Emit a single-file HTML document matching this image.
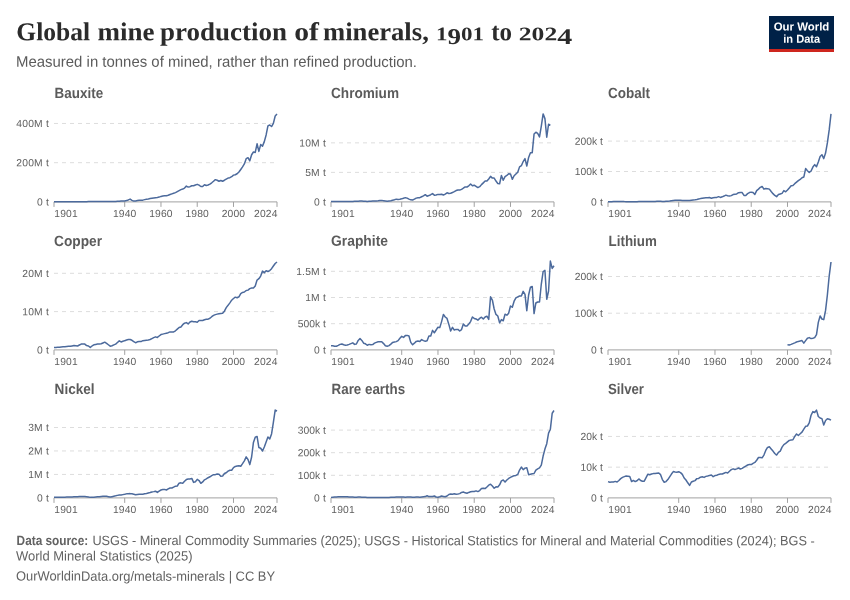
<!DOCTYPE html>
<html lang="en">
<head>
<meta charset="utf-8">
<title>Global mine production of minerals, 1901 to 2024</title>
<style>
html, body { margin: 0; padding: 0; background: #ffffff; }
body { width: 850px; height: 600px; overflow: hidden; font-family: "Liberation Sans", sans-serif; }
svg { display: block; will-change: transform; }
svg text { white-space: pre; }
</style>
</head>
<body>
<svg width="850" height="600" viewBox="0 0 850 600">
<rect width="850" height="600" fill="#ffffff"/>
<g id="header">
<text x="16.3" y="40.3" transform="rotate(0.03 16.3 40.3)" font-size="25.8" textLength="73.8" font-family="'Liberation Serif', serif" font-weight="bold" fill="#2b2b2b" lengthAdjust="spacingAndGlyphs">Global</text>
<text x="97.6" y="40.3" transform="rotate(0.03 97.6 40.3)" font-size="25.8" textLength="57" font-family="'Liberation Serif', serif" font-weight="bold" fill="#2b2b2b" lengthAdjust="spacingAndGlyphs">mine</text>
<text x="160.1" y="40.3" transform="rotate(0.03 160.1 40.3)" font-size="25.8" textLength="126.9" font-family="'Liberation Serif', serif" font-weight="bold" fill="#2b2b2b" lengthAdjust="spacingAndGlyphs">production</text>
<text x="294.2" y="40.3" transform="rotate(0.03 294.2 40.3)" font-size="25.8" textLength="24.7" font-family="'Liberation Serif', serif" font-weight="bold" fill="#2b2b2b" lengthAdjust="spacingAndGlyphs">of</text>
<text x="323" y="40.3" transform="rotate(0.03 323 40.3)" font-size="25.8" textLength="105.8" font-family="'Liberation Serif', serif" font-weight="bold" fill="#2b2b2b" lengthAdjust="spacingAndGlyphs">minerals,</text>
<text x="491.2" y="40.3" transform="rotate(0.03 491.2 40.3)" font-size="25.8" textLength="20.8" font-family="'Liberation Serif', serif" font-weight="bold" fill="#2b2b2b" lengthAdjust="spacingAndGlyphs">to</text>
<text x="436.1" y="40.3" transform="rotate(0.03 436.1 40.3)" font-size="19.2" textLength="48" font-family="'Liberation Serif', serif" font-weight="bold" fill="#2b2b2b" lengthAdjust="spacingAndGlyphs">1<tspan dy="3.8" font-size="22.5">9</tspan><tspan dy="-3.8">01</tspan></text>
<text x="518.8" y="40.3" transform="rotate(0.03 518.8 40.3)" font-size="19.2" textLength="53.4" font-family="'Liberation Serif', serif" font-weight="bold" fill="#2b2b2b" lengthAdjust="spacingAndGlyphs">202<tspan dy="3.8" font-size="22.5">4</tspan></text>
<text x="16" y="66.7" transform="rotate(0.03 16 66.7)" font-family="'Liberation Sans', sans-serif" font-size="15.2" fill="#5b5b5b" textLength="401" lengthAdjust="spacingAndGlyphs">Measured in tonnes of mined, rather than refined production.</text>
</g>
<g id="logo">
<rect x="769" y="16" width="65" height="36" fill="#002147"/>
<rect x="769" y="49" width="65" height="3" fill="#ce261e"/>
<text x="801.5" y="30.6" transform="rotate(0.03 801.5 30.6)" text-anchor="middle" font-family="'Liberation Sans', sans-serif" font-weight="bold" font-size="11.5" fill="#ffffff" textLength="55.6" lengthAdjust="spacingAndGlyphs">Our World</text>
<text x="801.7" y="42.7" transform="rotate(0.03 801.7 42.7)" text-anchor="middle" font-family="'Liberation Sans', sans-serif" font-weight="bold" font-size="11.5" fill="#ffffff" textLength="37" lengthAdjust="spacingAndGlyphs">in Data</text>
</g>
<g id="chart-bauxite">
<text x="54.6" y="97.7" transform="rotate(0.03 54.6 97.7)" font-family="'Liberation Sans', sans-serif" font-weight="bold" font-size="14.8" fill="#5b5b5b" textLength="48.5" lengthAdjust="spacingAndGlyphs">Bauxite</text>
<text x="49" y="205.5" transform="rotate(0.03 49 205.5)" text-anchor="end" letter-spacing="0.2" font-family="'Liberation Sans', sans-serif" font-size="10.3" fill="#5e5e5e">0 t</text>
<line x1="54" y1="162.68" x2="277" y2="162.68" stroke="#dddddd" stroke-width="1" stroke-dasharray="4 4"/>
<text x="49" y="166.28" transform="rotate(0.03 49 166.28)" text-anchor="end" letter-spacing="0.2" font-family="'Liberation Sans', sans-serif" font-size="10.3" fill="#5e5e5e">200M t</text>
<line x1="54" y1="123.46" x2="277" y2="123.46" stroke="#dddddd" stroke-width="1" stroke-dasharray="4 4"/>
<text x="49" y="127.06" transform="rotate(0.03 49 127.06)" text-anchor="end" letter-spacing="0.2" font-family="'Liberation Sans', sans-serif" font-size="10.3" fill="#5e5e5e">400M t</text>
<line x1="54" y1="201.9" x2="277" y2="201.9" stroke="#a1a1a1" stroke-width="1"/>
<line x1="54" y1="201.9" x2="54" y2="206.9" stroke="#a1a1a1" stroke-width="1"/>
<text x="54.3" y="216.9" transform="rotate(0.03 54.3 216.9)" letter-spacing="0.15" text-anchor="start" font-family="'Liberation Sans', sans-serif" font-size="10.3" fill="#5e5e5e">1901</text>
<line x1="124.71" y1="201.9" x2="124.71" y2="206.9" stroke="#a1a1a1" stroke-width="1"/>
<text x="124.71" y="216.9" transform="rotate(0.03 124.71 216.9)" letter-spacing="0.15" text-anchor="middle" font-family="'Liberation Sans', sans-serif" font-size="10.3" fill="#5e5e5e">1940</text>
<line x1="160.97" y1="201.9" x2="160.97" y2="206.9" stroke="#a1a1a1" stroke-width="1"/>
<text x="160.97" y="216.9" transform="rotate(0.03 160.97 216.9)" letter-spacing="0.15" text-anchor="middle" font-family="'Liberation Sans', sans-serif" font-size="10.3" fill="#5e5e5e">1960</text>
<line x1="197.23" y1="201.9" x2="197.23" y2="206.9" stroke="#a1a1a1" stroke-width="1"/>
<text x="197.23" y="216.9" transform="rotate(0.03 197.23 216.9)" letter-spacing="0.15" text-anchor="middle" font-family="'Liberation Sans', sans-serif" font-size="10.3" fill="#5e5e5e">1980</text>
<line x1="233.49" y1="201.9" x2="233.49" y2="206.9" stroke="#a1a1a1" stroke-width="1"/>
<text x="233.49" y="216.9" transform="rotate(0.03 233.49 216.9)" letter-spacing="0.15" text-anchor="middle" font-family="'Liberation Sans', sans-serif" font-size="10.3" fill="#5e5e5e">2000</text>
<line x1="277" y1="201.9" x2="277" y2="206.9" stroke="#a1a1a1" stroke-width="1"/>
<text x="277.6" y="216.9" transform="rotate(0.03 277.6 216.9)" letter-spacing="0.15" text-anchor="end" font-family="'Liberation Sans', sans-serif" font-size="10.3" fill="#5e5e5e">2024</text>
<polyline points="54,201.78 55.81,201.77 57.63,201.77 59.44,201.76 61.25,201.76 63.07,201.75 64.88,201.75 66.69,201.74 68.5,201.74 70.32,201.73 72.13,201.73 73.94,201.72 75.76,201.71 77.57,201.71 79.38,201.7 81.2,201.69 83.01,201.67 84.82,201.65 86.63,201.64 88.45,201.62 90.26,201.6 92.07,201.58 93.89,201.56 95.7,201.55 97.51,201.53 99.33,201.49 101.14,201.46 102.95,201.42 104.76,201.39 106.58,201.46 108.39,201.53 110.2,201.6 112.02,201.55 113.83,201.5 115.64,201.45 117.46,201.31 119.27,201.17 121.08,201.04 122.89,200.97 124.71,200.9 126.52,200.53 128.33,199.94 130.15,199.06 131.96,200.33 133.77,201.09 135.59,200.92 137.4,200.57 139.21,200.19 141.02,200.19 142.84,200.15 144.65,199.64 146.46,199.25 148.28,198.96 150.09,198.57 151.9,198.27 153.72,197.98 155.53,197.68 157.34,197.49 159.15,197.1 160.97,196.41 162.78,196.02 164.59,195.72 166.41,195.72 168.22,195.23 170.03,194.55 171.85,193.86 173.66,193.18 175.47,192.59 177.28,191.61 179.1,190.63 180.91,189.65 182.72,189.06 184.54,188.08 186.35,186.12 188.16,187.1 189.98,186.71 191.79,185.73 193.6,185.73 195.41,184.94 197.23,184.36 199.04,185.14 200.85,186.51 202.67,186.51 204.48,184.75 206.29,185.53 208.11,184.94 209.92,184.16 211.73,182.79 213.54,181.22 215.36,179.65 217.17,180.24 218.98,181.22 220.8,180.44 222.61,181.22 224.42,180.24 226.24,179.06 228.05,178.08 229.86,177.69 231.67,176.71 233.49,175.14 235.3,174.75 237.11,173.77 238.93,172.01 240.74,169.46 242.55,166.91 244.37,163.97 246.18,158.68 247.99,157.7 249.8,160.84 251.62,154.76 253.43,152.02 255.24,152.41 257.06,143.78 258.87,151.43 260.68,144.57 262.5,146.14 264.31,141.63 266.12,134.96 267.93,125.95 269.75,124.97 271.56,126.54 273.37,123.4 275.19,115.95 277,113.99" fill="none" stroke="#4c6a9c" stroke-width="1.5" stroke-linejoin="round" stroke-linecap="butt"/>
</g>
<g id="chart-chromium">
<text x="331" y="97.7" transform="rotate(0.03 331 97.7)" font-family="'Liberation Sans', sans-serif" font-weight="bold" font-size="14.8" fill="#5b5b5b" textLength="68" lengthAdjust="spacingAndGlyphs">Chromium</text>
<text x="326" y="205.5" transform="rotate(0.03 326 205.5)" text-anchor="end" letter-spacing="0.2" font-family="'Liberation Sans', sans-serif" font-size="10.3" fill="#5e5e5e">0 t</text>
<line x1="331" y1="172.38" x2="554" y2="172.38" stroke="#dddddd" stroke-width="1" stroke-dasharray="4 4"/>
<text x="326" y="175.97" transform="rotate(0.03 326 175.97)" text-anchor="end" letter-spacing="0.2" font-family="'Liberation Sans', sans-serif" font-size="10.3" fill="#5e5e5e">5M t</text>
<line x1="331" y1="142.85" x2="554" y2="142.85" stroke="#dddddd" stroke-width="1" stroke-dasharray="4 4"/>
<text x="326" y="146.45" transform="rotate(0.03 326 146.45)" text-anchor="end" letter-spacing="0.2" font-family="'Liberation Sans', sans-serif" font-size="10.3" fill="#5e5e5e">10M t</text>
<line x1="331" y1="201.9" x2="554" y2="201.9" stroke="#a1a1a1" stroke-width="1"/>
<line x1="331" y1="201.9" x2="331" y2="206.9" stroke="#a1a1a1" stroke-width="1"/>
<text x="331.3" y="216.9" transform="rotate(0.03 331.3 216.9)" letter-spacing="0.15" text-anchor="start" font-family="'Liberation Sans', sans-serif" font-size="10.3" fill="#5e5e5e">1901</text>
<line x1="401.71" y1="201.9" x2="401.71" y2="206.9" stroke="#a1a1a1" stroke-width="1"/>
<text x="401.71" y="216.9" transform="rotate(0.03 401.71 216.9)" letter-spacing="0.15" text-anchor="middle" font-family="'Liberation Sans', sans-serif" font-size="10.3" fill="#5e5e5e">1940</text>
<line x1="437.97" y1="201.9" x2="437.97" y2="206.9" stroke="#a1a1a1" stroke-width="1"/>
<text x="437.97" y="216.9" transform="rotate(0.03 437.97 216.9)" letter-spacing="0.15" text-anchor="middle" font-family="'Liberation Sans', sans-serif" font-size="10.3" fill="#5e5e5e">1960</text>
<line x1="474.23" y1="201.9" x2="474.23" y2="206.9" stroke="#a1a1a1" stroke-width="1"/>
<text x="474.23" y="216.9" transform="rotate(0.03 474.23 216.9)" letter-spacing="0.15" text-anchor="middle" font-family="'Liberation Sans', sans-serif" font-size="10.3" fill="#5e5e5e">1980</text>
<line x1="510.49" y1="201.9" x2="510.49" y2="206.9" stroke="#a1a1a1" stroke-width="1"/>
<text x="510.49" y="216.9" transform="rotate(0.03 510.49 216.9)" letter-spacing="0.15" text-anchor="middle" font-family="'Liberation Sans', sans-serif" font-size="10.3" fill="#5e5e5e">2000</text>
<line x1="554" y1="201.9" x2="554" y2="206.9" stroke="#a1a1a1" stroke-width="1"/>
<text x="554.6" y="216.9" transform="rotate(0.03 554.6 216.9)" letter-spacing="0.15" text-anchor="end" font-family="'Liberation Sans', sans-serif" font-size="10.3" fill="#5e5e5e">2024</text>
<polyline points="331,201.62 332.81,201.6 334.63,201.58 336.44,201.55 338.25,201.53 340.07,201.5 341.88,201.52 343.69,201.53 345.5,201.55 347.32,201.56 349.13,201.5 350.94,201.44 352.76,201.39 354.57,201.33 356.38,201.27 358.2,201.21 360.01,201.12 361.82,201.03 363.63,201.19 365.45,201.35 367.26,201.5 369.07,201.37 370.89,201.23 372.7,201.09 374.51,200.99 376.33,200.89 378.14,200.79 379.95,200.59 381.76,200.38 383.58,200.66 385.39,200.93 387.2,201.21 389.02,201 390.83,200.79 392.64,200.26 394.46,199.73 396.27,199.14 398.08,199.43 399.89,199.31 401.71,198.84 403.52,198.25 405.33,197.66 407.15,198.13 408.96,199.14 410.77,199.85 412.59,200.02 414.4,199.14 416.21,198.13 418.02,197.77 419.84,197.66 421.65,196.77 423.46,195.88 425.28,194.7 427.09,196.18 428.9,195.58 430.72,194.7 432.53,193.63 434.34,195.17 436.15,194.99 437.97,194.4 439.78,194.4 441.59,194.22 443.41,194.99 445.22,194.1 447.03,192.8 448.85,193.51 450.66,193.22 452.47,192.45 454.28,191.62 456.1,190.55 457.91,189.96 459.72,190.08 461.54,189.37 463.35,188.18 465.16,186.88 466.98,187 468.79,185.82 470.6,184.04 472.41,185.82 474.23,185.22 476.04,186.41 477.85,187.59 479.67,186.7 481.48,184.63 483.29,182.86 485.11,181.08 486.92,181.08 488.73,179.01 490.54,176.34 492.36,178.12 494.17,178.12 495.98,181.08 497.8,183.45 499.61,183.74 501.42,175.46 503.24,180.19 505.05,176.64 506.86,175.46 508.67,173.68 510.49,173.98 512.3,179.3 514.11,175.75 515.93,173.98 517.74,172.2 519.55,166.87 521.37,165.69 523.18,161.54 524.99,158.58 526.8,165.98 528.62,157.4 530.43,152.66 532.24,152.66 534.06,134.02 535.87,132.24 537.68,133.42 539.5,136.98 541.31,126.02 543.12,113.89 544.93,118.62 546.75,137.27 548.56,124.25 550.37,125.43" fill="none" stroke="#4c6a9c" stroke-width="1.5" stroke-linejoin="round" stroke-linecap="butt"/>
</g>
<g id="chart-cobalt">
<text x="608" y="97.7" transform="rotate(0.03 608 97.7)" font-family="'Liberation Sans', sans-serif" font-weight="bold" font-size="14.8" fill="#5b5b5b" textLength="42" lengthAdjust="spacingAndGlyphs">Cobalt</text>
<text x="603" y="205.5" transform="rotate(0.03 603 205.5)" text-anchor="end" letter-spacing="0.2" font-family="'Liberation Sans', sans-serif" font-size="10.3" fill="#5e5e5e">0 t</text>
<line x1="608" y1="171.5" x2="831" y2="171.5" stroke="#dddddd" stroke-width="1" stroke-dasharray="4 4"/>
<text x="602.8" y="175.1" transform="rotate(0.03 602.8 175.1)" text-anchor="end" letter-spacing="0" font-family="'Liberation Sans', sans-serif" font-size="10.3" fill="#5e5e5e">100k t</text>
<line x1="608" y1="141.1" x2="831" y2="141.1" stroke="#dddddd" stroke-width="1" stroke-dasharray="4 4"/>
<text x="602.8" y="144.7" transform="rotate(0.03 602.8 144.7)" text-anchor="end" letter-spacing="0" font-family="'Liberation Sans', sans-serif" font-size="10.3" fill="#5e5e5e">200k t</text>
<line x1="608" y1="201.9" x2="831" y2="201.9" stroke="#a1a1a1" stroke-width="1"/>
<line x1="608" y1="201.9" x2="608" y2="206.9" stroke="#a1a1a1" stroke-width="1"/>
<text x="608.3" y="216.9" transform="rotate(0.03 608.3 216.9)" letter-spacing="0.15" text-anchor="start" font-family="'Liberation Sans', sans-serif" font-size="10.3" fill="#5e5e5e">1901</text>
<line x1="678.71" y1="201.9" x2="678.71" y2="206.9" stroke="#a1a1a1" stroke-width="1"/>
<text x="678.71" y="216.9" transform="rotate(0.03 678.71 216.9)" letter-spacing="0.15" text-anchor="middle" font-family="'Liberation Sans', sans-serif" font-size="10.3" fill="#5e5e5e">1940</text>
<line x1="714.97" y1="201.9" x2="714.97" y2="206.9" stroke="#a1a1a1" stroke-width="1"/>
<text x="714.97" y="216.9" transform="rotate(0.03 714.97 216.9)" letter-spacing="0.15" text-anchor="middle" font-family="'Liberation Sans', sans-serif" font-size="10.3" fill="#5e5e5e">1960</text>
<line x1="751.23" y1="201.9" x2="751.23" y2="206.9" stroke="#a1a1a1" stroke-width="1"/>
<text x="751.23" y="216.9" transform="rotate(0.03 751.23 216.9)" letter-spacing="0.15" text-anchor="middle" font-family="'Liberation Sans', sans-serif" font-size="10.3" fill="#5e5e5e">1980</text>
<line x1="787.49" y1="201.9" x2="787.49" y2="206.9" stroke="#a1a1a1" stroke-width="1"/>
<text x="787.49" y="216.9" transform="rotate(0.03 787.49 216.9)" letter-spacing="0.15" text-anchor="middle" font-family="'Liberation Sans', sans-serif" font-size="10.3" fill="#5e5e5e">2000</text>
<line x1="831" y1="201.9" x2="831" y2="206.9" stroke="#a1a1a1" stroke-width="1"/>
<text x="831.6" y="216.9" transform="rotate(0.03 831.6 216.9)" letter-spacing="0.15" text-anchor="end" font-family="'Liberation Sans', sans-serif" font-size="10.3" fill="#5e5e5e">2024</text>
<polyline points="608,201.71 609.81,201.67 611.63,201.63 613.44,201.59 615.25,201.55 617.07,201.52 618.88,201.48 620.69,201.44 622.5,201.53 624.32,201.62 626.13,201.63 627.94,201.64 629.76,201.66 631.57,201.67 633.38,201.68 635.2,201.66 637.01,201.64 638.82,201.62 640.63,201.61 642.45,201.59 644.26,201.57 646.07,201.55 647.89,201.53 649.7,201.52 651.51,201.5 653.33,201.44 655.14,201.38 656.95,201.32 658.76,201.26 660.58,201.34 662.39,201.42 664.2,201.5 666.02,201.35 667.83,201.2 669.64,201.05 671.46,200.74 673.27,200.44 675.08,200.29 676.89,200.14 678.71,200.23 680.52,200.32 682.33,200.41 684.15,200.47 685.96,200.53 687.77,200.56 689.59,200.59 691.4,200.29 693.21,199.99 695.02,199.84 696.84,199.54 698.65,199.08 700.46,198.6 702.28,198.33 704.09,198.03 705.9,197.87 707.72,197.72 709.53,197.57 711.34,198.18 713.15,197.72 714.97,197.42 716.78,197.42 718.59,196.67 720.41,197.42 722.22,196.82 724.03,196.06 725.85,195.16 727.66,195.76 729.47,196.06 731.28,195.61 733.1,194.55 734.91,194.25 736.72,193.95 738.54,192.74 740.35,192.44 742.16,192.59 743.98,195.46 745.79,195.46 747.6,193.65 749.41,192.59 751.23,192.14 753.04,192.44 754.85,194.4 756.67,190.63 758.48,189.12 760.29,187.3 762.11,186.4 763.92,189.12 765.73,188.51 767.54,188.66 769.36,189.12 771.17,191.53 772.98,193.65 774.8,195.46 776.61,196.67 778.42,194.55 780.24,193.95 782.05,193.34 783.86,190.63 785.67,191.83 787.49,190.02 789.3,187.91 791.11,185.79 792.93,185.49 794.74,183.68 796.55,182.17 798.37,180.66 800.18,179.45 801.99,177.79 803.8,177.04 805.62,168.58 807.43,170.69 809.24,172.51 811.06,171 812.87,167.07 814.68,164.65 816.5,166.62 818.31,161.94 820.12,156.5 821.93,154.69 823.75,158.61 825.56,153.03 827.37,142.91 829.19,129.92 831,113.92" fill="none" stroke="#4c6a9c" stroke-width="1.5" stroke-linejoin="round" stroke-linecap="butt"/>
</g>
<g id="chart-copper">
<text x="54" y="245.7" transform="rotate(0.03 54 245.7)" font-family="'Liberation Sans', sans-serif" font-weight="bold" font-size="14.8" fill="#5b5b5b" textLength="48" lengthAdjust="spacingAndGlyphs">Copper</text>
<text x="49" y="353.5" transform="rotate(0.03 49 353.5)" text-anchor="end" letter-spacing="0.2" font-family="'Liberation Sans', sans-serif" font-size="10.3" fill="#5e5e5e">0 t</text>
<line x1="54" y1="311.6" x2="277" y2="311.6" stroke="#dddddd" stroke-width="1" stroke-dasharray="4 4"/>
<text x="49" y="315.2" transform="rotate(0.03 49 315.2)" text-anchor="end" letter-spacing="0.2" font-family="'Liberation Sans', sans-serif" font-size="10.3" fill="#5e5e5e">10M t</text>
<line x1="54" y1="273.3" x2="277" y2="273.3" stroke="#dddddd" stroke-width="1" stroke-dasharray="4 4"/>
<text x="49" y="276.9" transform="rotate(0.03 49 276.9)" text-anchor="end" letter-spacing="0.2" font-family="'Liberation Sans', sans-serif" font-size="10.3" fill="#5e5e5e">20M t</text>
<line x1="54" y1="349.9" x2="277" y2="349.9" stroke="#a1a1a1" stroke-width="1"/>
<line x1="54" y1="349.9" x2="54" y2="354.9" stroke="#a1a1a1" stroke-width="1"/>
<text x="54.3" y="364.9" transform="rotate(0.03 54.3 364.9)" letter-spacing="0.15" text-anchor="start" font-family="'Liberation Sans', sans-serif" font-size="10.3" fill="#5e5e5e">1901</text>
<line x1="124.71" y1="349.9" x2="124.71" y2="354.9" stroke="#a1a1a1" stroke-width="1"/>
<text x="124.71" y="364.9" transform="rotate(0.03 124.71 364.9)" letter-spacing="0.15" text-anchor="middle" font-family="'Liberation Sans', sans-serif" font-size="10.3" fill="#5e5e5e">1940</text>
<line x1="160.97" y1="349.9" x2="160.97" y2="354.9" stroke="#a1a1a1" stroke-width="1"/>
<text x="160.97" y="364.9" transform="rotate(0.03 160.97 364.9)" letter-spacing="0.15" text-anchor="middle" font-family="'Liberation Sans', sans-serif" font-size="10.3" fill="#5e5e5e">1960</text>
<line x1="197.23" y1="349.9" x2="197.23" y2="354.9" stroke="#a1a1a1" stroke-width="1"/>
<text x="197.23" y="364.9" transform="rotate(0.03 197.23 364.9)" letter-spacing="0.15" text-anchor="middle" font-family="'Liberation Sans', sans-serif" font-size="10.3" fill="#5e5e5e">1980</text>
<line x1="233.49" y1="349.9" x2="233.49" y2="354.9" stroke="#a1a1a1" stroke-width="1"/>
<text x="233.49" y="364.9" transform="rotate(0.03 233.49 364.9)" letter-spacing="0.15" text-anchor="middle" font-family="'Liberation Sans', sans-serif" font-size="10.3" fill="#5e5e5e">2000</text>
<line x1="277" y1="349.9" x2="277" y2="354.9" stroke="#a1a1a1" stroke-width="1"/>
<text x="277.6" y="364.9" transform="rotate(0.03 277.6 364.9)" letter-spacing="0.15" text-anchor="end" font-family="'Liberation Sans', sans-serif" font-size="10.3" fill="#5e5e5e">2024</text>
<polyline points="54,347.61 55.81,347.46 57.63,347.31 59.44,347.16 61.25,347.01 63.07,346.85 64.88,346.69 66.69,346.53 68.5,346.37 70.32,346.21 72.13,345.9 73.94,345.6 75.76,345.79 77.57,345.98 79.38,345.03 81.2,344.08 83.01,343.89 84.82,344.08 86.63,345.6 88.45,345.98 90.26,347.39 92.07,345.98 93.89,344.84 95.7,344.46 97.51,344.08 99.33,343.89 101.14,343.7 102.95,342.94 104.76,342.18 106.58,343.32 108.39,344.75 110.2,346.17 112.02,345.79 113.83,344.94 115.64,344.08 117.46,342.46 119.27,340.85 121.08,341.99 122.89,341.32 124.71,340.66 126.52,340.09 128.33,339.52 130.15,339.52 131.96,340.28 133.77,341.51 135.59,342.75 137.4,341.8 139.21,341.42 141.02,341.61 142.84,340.66 144.65,340.41 146.46,340.15 148.28,339.9 150.09,339.52 151.9,338.57 153.72,337.62 155.53,336.86 157.34,337.43 159.15,336 160.97,334.58 162.78,334.1 164.59,333.63 166.41,333.15 168.22,332.68 170.03,331.92 171.85,331.92 173.66,331.92 175.47,330.78 177.28,329.16 179.1,327.55 180.91,326.98 182.72,324.7 184.54,323.18 186.35,322.61 188.16,323.94 189.98,322.04 191.79,321.28 193.6,321.66 195.41,321.85 197.23,322.23 199.04,320.52 200.85,320.52 202.67,320.52 204.48,319.76 206.29,319.19 208.11,319.19 209.92,318.24 211.73,316.72 213.54,315.39 215.36,314.63 217.17,314.15 218.98,313.68 220.8,313.49 222.61,313.3 224.42,311.21 226.24,307.6 228.05,305.32 229.86,302.85 231.67,300.19 233.49,298.48 235.3,297.15 237.11,297.72 238.93,296.77 240.74,293.54 242.55,292.4 244.37,292.02 246.18,290.5 247.99,290.12 249.8,288.6 251.62,288.03 253.43,288.03 255.24,285.94 257.06,280.05 258.87,278.72 260.68,276.06 262.5,271.12 264.31,272.64 266.12,270.74 267.93,271.5 269.75,270.55 271.56,268.65 273.37,265.99 275.19,263.52 277,262" fill="none" stroke="#4c6a9c" stroke-width="1.5" stroke-linejoin="round" stroke-linecap="butt"/>
</g>
<g id="chart-graphite">
<text x="331" y="245.7" transform="rotate(0.03 331 245.7)" font-family="'Liberation Sans', sans-serif" font-weight="bold" font-size="14.8" fill="#5b5b5b" textLength="57" lengthAdjust="spacingAndGlyphs">Graphite</text>
<text x="326" y="353.5" transform="rotate(0.03 326 353.5)" text-anchor="end" letter-spacing="0.2" font-family="'Liberation Sans', sans-serif" font-size="10.3" fill="#5e5e5e">0 t</text>
<line x1="331" y1="323.7" x2="554" y2="323.7" stroke="#dddddd" stroke-width="1" stroke-dasharray="4 4"/>
<text x="325.8" y="327.3" transform="rotate(0.03 325.8 327.3)" text-anchor="end" letter-spacing="0" font-family="'Liberation Sans', sans-serif" font-size="10.3" fill="#5e5e5e">500k t</text>
<line x1="331" y1="297.5" x2="554" y2="297.5" stroke="#dddddd" stroke-width="1" stroke-dasharray="4 4"/>
<text x="326" y="301.1" transform="rotate(0.03 326 301.1)" text-anchor="end" letter-spacing="0.2" font-family="'Liberation Sans', sans-serif" font-size="10.3" fill="#5e5e5e">1M t</text>
<line x1="331" y1="271.3" x2="554" y2="271.3" stroke="#dddddd" stroke-width="1" stroke-dasharray="4 4"/>
<text x="326" y="274.9" transform="rotate(0.03 326 274.9)" text-anchor="end" letter-spacing="0.2" font-family="'Liberation Sans', sans-serif" font-size="10.3" fill="#5e5e5e">1.5M t</text>
<line x1="331" y1="349.9" x2="554" y2="349.9" stroke="#a1a1a1" stroke-width="1"/>
<line x1="331" y1="349.9" x2="331" y2="354.9" stroke="#a1a1a1" stroke-width="1"/>
<text x="331.3" y="364.9" transform="rotate(0.03 331.3 364.9)" letter-spacing="0.15" text-anchor="start" font-family="'Liberation Sans', sans-serif" font-size="10.3" fill="#5e5e5e">1901</text>
<line x1="401.71" y1="349.9" x2="401.71" y2="354.9" stroke="#a1a1a1" stroke-width="1"/>
<text x="401.71" y="364.9" transform="rotate(0.03 401.71 364.9)" letter-spacing="0.15" text-anchor="middle" font-family="'Liberation Sans', sans-serif" font-size="10.3" fill="#5e5e5e">1940</text>
<line x1="437.97" y1="349.9" x2="437.97" y2="354.9" stroke="#a1a1a1" stroke-width="1"/>
<text x="437.97" y="364.9" transform="rotate(0.03 437.97 364.9)" letter-spacing="0.15" text-anchor="middle" font-family="'Liberation Sans', sans-serif" font-size="10.3" fill="#5e5e5e">1960</text>
<line x1="474.23" y1="349.9" x2="474.23" y2="354.9" stroke="#a1a1a1" stroke-width="1"/>
<text x="474.23" y="364.9" transform="rotate(0.03 474.23 364.9)" letter-spacing="0.15" text-anchor="middle" font-family="'Liberation Sans', sans-serif" font-size="10.3" fill="#5e5e5e">1980</text>
<line x1="510.49" y1="349.9" x2="510.49" y2="354.9" stroke="#a1a1a1" stroke-width="1"/>
<text x="510.49" y="364.9" transform="rotate(0.03 510.49 364.9)" letter-spacing="0.15" text-anchor="middle" font-family="'Liberation Sans', sans-serif" font-size="10.3" fill="#5e5e5e">2000</text>
<line x1="554" y1="349.9" x2="554" y2="354.9" stroke="#a1a1a1" stroke-width="1"/>
<text x="554.6" y="364.9" transform="rotate(0.03 554.6 364.9)" letter-spacing="0.15" text-anchor="end" font-family="'Liberation Sans', sans-serif" font-size="10.3" fill="#5e5e5e">2024</text>
<polyline points="331,345.79 332.81,345.79 334.63,346.21 336.44,346.21 338.25,345.38 340.07,344.38 341.88,344.02 343.69,344.8 345.5,345.22 347.32,345.01 349.13,344.38 350.94,343.6 352.76,342.82 354.57,344.38 356.38,344.02 358.2,340.41 360.01,338.58 361.82,340.41 363.63,343.18 365.45,343.81 367.26,345.22 369.07,344.38 370.89,344.8 372.7,344.59 374.51,343.18 376.33,342.4 378.14,341.82 379.95,341.82 381.76,341.82 383.58,343.6 385.39,345.79 387.2,346.21 389.02,345.59 390.83,344.17 392.64,342.4 394.46,341.98 396.27,341.61 398.08,340.62 399.89,338.22 401.71,336.39 403.52,337.38 405.33,335.6 407.15,335.39 408.96,336.02 410.77,342.4 412.59,344.8 414.4,343.18 416.21,341.4 418.02,340.99 419.84,341.61 421.65,339.58 423.46,340.62 425.28,341.2 427.09,340.78 428.9,336.02 430.72,336.02 432.53,330.38 434.34,332.78 436.15,330.01 437.97,327.19 439.78,327.61 441.59,321.6 443.41,314.39 445.22,317 447.03,318.41 448.85,324.42 450.66,331 452.47,327.4 454.28,330.01 456.1,329.38 457.91,329.38 459.72,331 461.54,329.59 463.35,324 465.16,325.99 466.98,325.99 468.79,324 470.6,321.6 472.41,317 474.23,318.41 476.04,318.98 477.85,320.19 479.67,318.41 481.48,317.21 483.29,318.98 485.11,317 486.92,316.21 488.73,319.4 490.54,296.83 492.36,300.01 494.17,309 495.98,314.39 497.8,316.01 499.61,322.8 501.42,319.61 503.24,320.81 505.05,314.18 506.86,315.22 508.67,313.18 510.49,306.02 512.3,307.23 514.11,301.22 515.93,297.82 517.74,296.83 519.55,295.99 521.37,295.99 523.18,291.39 524.99,294.42 526.8,310.78 528.62,295 530.43,287.21 532.24,286.43 534.06,313.6 535.87,302.99 537.68,302 539.5,302 541.31,284.02 543.12,271.58 544.93,270.38 546.75,299.23 548.56,291.03 550.37,261.08 552.19,268.4 554,265.78" fill="none" stroke="#4c6a9c" stroke-width="1.5" stroke-linejoin="round" stroke-linecap="butt"/>
</g>
<g id="chart-lithium">
<text x="608.6" y="245.7" transform="rotate(0.03 608.6 245.7)" font-family="'Liberation Sans', sans-serif" font-weight="bold" font-size="14.8" fill="#5b5b5b" textLength="48.2" lengthAdjust="spacingAndGlyphs">Lithium</text>
<text x="603" y="353.5" transform="rotate(0.03 603 353.5)" text-anchor="end" letter-spacing="0.2" font-family="'Liberation Sans', sans-serif" font-size="10.3" fill="#5e5e5e">0 t</text>
<line x1="608" y1="313.2" x2="831" y2="313.2" stroke="#dddddd" stroke-width="1" stroke-dasharray="4 4"/>
<text x="602.8" y="316.8" transform="rotate(0.03 602.8 316.8)" text-anchor="end" letter-spacing="0" font-family="'Liberation Sans', sans-serif" font-size="10.3" fill="#5e5e5e">100k t</text>
<line x1="608" y1="276.5" x2="831" y2="276.5" stroke="#dddddd" stroke-width="1" stroke-dasharray="4 4"/>
<text x="602.8" y="280.1" transform="rotate(0.03 602.8 280.1)" text-anchor="end" letter-spacing="0" font-family="'Liberation Sans', sans-serif" font-size="10.3" fill="#5e5e5e">200k t</text>
<line x1="608" y1="349.9" x2="831" y2="349.9" stroke="#a1a1a1" stroke-width="1"/>
<line x1="608" y1="349.9" x2="608" y2="354.9" stroke="#a1a1a1" stroke-width="1"/>
<text x="608.3" y="364.9" transform="rotate(0.03 608.3 364.9)" letter-spacing="0.15" text-anchor="start" font-family="'Liberation Sans', sans-serif" font-size="10.3" fill="#5e5e5e">1901</text>
<line x1="678.71" y1="349.9" x2="678.71" y2="354.9" stroke="#a1a1a1" stroke-width="1"/>
<text x="678.71" y="364.9" transform="rotate(0.03 678.71 364.9)" letter-spacing="0.15" text-anchor="middle" font-family="'Liberation Sans', sans-serif" font-size="10.3" fill="#5e5e5e">1940</text>
<line x1="714.97" y1="349.9" x2="714.97" y2="354.9" stroke="#a1a1a1" stroke-width="1"/>
<text x="714.97" y="364.9" transform="rotate(0.03 714.97 364.9)" letter-spacing="0.15" text-anchor="middle" font-family="'Liberation Sans', sans-serif" font-size="10.3" fill="#5e5e5e">1960</text>
<line x1="751.23" y1="349.9" x2="751.23" y2="354.9" stroke="#a1a1a1" stroke-width="1"/>
<text x="751.23" y="364.9" transform="rotate(0.03 751.23 364.9)" letter-spacing="0.15" text-anchor="middle" font-family="'Liberation Sans', sans-serif" font-size="10.3" fill="#5e5e5e">1980</text>
<line x1="787.49" y1="349.9" x2="787.49" y2="354.9" stroke="#a1a1a1" stroke-width="1"/>
<text x="787.49" y="364.9" transform="rotate(0.03 787.49 364.9)" letter-spacing="0.15" text-anchor="middle" font-family="'Liberation Sans', sans-serif" font-size="10.3" fill="#5e5e5e">2000</text>
<line x1="831" y1="349.9" x2="831" y2="354.9" stroke="#a1a1a1" stroke-width="1"/>
<text x="831.6" y="364.9" transform="rotate(0.03 831.6 364.9)" letter-spacing="0.15" text-anchor="end" font-family="'Liberation Sans', sans-serif" font-size="10.3" fill="#5e5e5e">2024</text>
<polyline points="787.49,344.8 789.3,345.02 791.11,344.4 792.93,343.6 794.74,342.83 796.55,341.99 798.37,341.41 800.18,341 801.99,340.6 803.8,343.19 805.62,340.6 807.43,338.19 809.24,337.61 811.06,338.6 812.87,338.19 814.68,337.61 816.5,334.62 818.31,322.39 820.12,316 821.93,319 823.75,319.62 825.56,310.42 827.37,295.01 829.19,276.03 831,261.98" fill="none" stroke="#4c6a9c" stroke-width="1.5" stroke-linejoin="round" stroke-linecap="butt"/>
</g>
<g id="chart-nickel">
<text x="54.6" y="393.7" transform="rotate(0.03 54.6 393.7)" font-family="'Liberation Sans', sans-serif" font-weight="bold" font-size="14.8" fill="#5b5b5b" textLength="40" lengthAdjust="spacingAndGlyphs">Nickel</text>
<text x="49" y="501.5" transform="rotate(0.03 49 501.5)" text-anchor="end" letter-spacing="0.2" font-family="'Liberation Sans', sans-serif" font-size="10.3" fill="#5e5e5e">0 t</text>
<line x1="54" y1="474.43" x2="277" y2="474.43" stroke="#dddddd" stroke-width="1" stroke-dasharray="4 4"/>
<text x="49" y="478.03" transform="rotate(0.03 49 478.03)" text-anchor="end" letter-spacing="0.2" font-family="'Liberation Sans', sans-serif" font-size="10.3" fill="#5e5e5e">1M t</text>
<line x1="54" y1="450.96" x2="277" y2="450.96" stroke="#dddddd" stroke-width="1" stroke-dasharray="4 4"/>
<text x="49" y="454.56" transform="rotate(0.03 49 454.56)" text-anchor="end" letter-spacing="0.2" font-family="'Liberation Sans', sans-serif" font-size="10.3" fill="#5e5e5e">2M t</text>
<line x1="54" y1="427.49" x2="277" y2="427.49" stroke="#dddddd" stroke-width="1" stroke-dasharray="4 4"/>
<text x="49" y="431.09" transform="rotate(0.03 49 431.09)" text-anchor="end" letter-spacing="0.2" font-family="'Liberation Sans', sans-serif" font-size="10.3" fill="#5e5e5e">3M t</text>
<line x1="54" y1="497.9" x2="277" y2="497.9" stroke="#a1a1a1" stroke-width="1"/>
<line x1="54" y1="497.9" x2="54" y2="502.9" stroke="#a1a1a1" stroke-width="1"/>
<text x="54.3" y="512.9" transform="rotate(0.03 54.3 512.9)" letter-spacing="0.15" text-anchor="start" font-family="'Liberation Sans', sans-serif" font-size="10.3" fill="#5e5e5e">1901</text>
<line x1="124.71" y1="497.9" x2="124.71" y2="502.9" stroke="#a1a1a1" stroke-width="1"/>
<text x="124.71" y="512.9" transform="rotate(0.03 124.71 512.9)" letter-spacing="0.15" text-anchor="middle" font-family="'Liberation Sans', sans-serif" font-size="10.3" fill="#5e5e5e">1940</text>
<line x1="160.97" y1="497.9" x2="160.97" y2="502.9" stroke="#a1a1a1" stroke-width="1"/>
<text x="160.97" y="512.9" transform="rotate(0.03 160.97 512.9)" letter-spacing="0.15" text-anchor="middle" font-family="'Liberation Sans', sans-serif" font-size="10.3" fill="#5e5e5e">1960</text>
<line x1="197.23" y1="497.9" x2="197.23" y2="502.9" stroke="#a1a1a1" stroke-width="1"/>
<text x="197.23" y="512.9" transform="rotate(0.03 197.23 512.9)" letter-spacing="0.15" text-anchor="middle" font-family="'Liberation Sans', sans-serif" font-size="10.3" fill="#5e5e5e">1980</text>
<line x1="233.49" y1="497.9" x2="233.49" y2="502.9" stroke="#a1a1a1" stroke-width="1"/>
<text x="233.49" y="512.9" transform="rotate(0.03 233.49 512.9)" letter-spacing="0.15" text-anchor="middle" font-family="'Liberation Sans', sans-serif" font-size="10.3" fill="#5e5e5e">2000</text>
<line x1="277" y1="497.9" x2="277" y2="502.9" stroke="#a1a1a1" stroke-width="1"/>
<text x="277.6" y="512.9" transform="rotate(0.03 277.6 512.9)" letter-spacing="0.15" text-anchor="end" font-family="'Liberation Sans', sans-serif" font-size="10.3" fill="#5e5e5e">2024</text>
<polyline points="54,497.37 55.81,497.34 57.63,497.31 59.44,497.28 61.25,497.25 63.07,497.2 64.88,497.16 66.69,497.11 68.5,497.06 70.32,497.01 72.13,496.94 73.94,496.86 75.76,496.78 77.57,496.7 79.38,496.62 81.2,496.55 83.01,496.49 84.82,496.43 86.63,496.66 88.45,496.9 90.26,497.37 92.07,497.32 93.89,497.14 95.7,496.96 97.51,496.78 99.33,496.63 101.14,496.49 102.95,496.34 104.76,496.2 106.58,496.31 108.39,496.7 110.2,497.09 112.02,496.66 113.83,496.25 115.64,495.84 117.46,495.38 119.27,494.91 121.08,494.91 122.89,494.62 124.71,494.32 126.52,493.86 128.33,493.74 130.15,493.62 131.96,493.86 133.77,494.21 135.59,494.79 137.4,494.44 139.21,494.14 141.02,494.17 142.84,494.21 144.65,493.86 146.46,493.5 148.28,493.04 150.09,492.57 151.9,491.98 153.72,491.63 155.53,491.16 157.34,492.45 159.15,491.05 160.97,489.99 162.78,489.53 164.59,489.41 166.41,489.99 168.22,488.94 170.03,488.01 171.85,488.01 173.66,487.07 175.47,486.13 177.28,486.02 179.1,483.21 180.91,482.86 182.72,483.33 184.54,481.22 186.35,479.58 188.16,479 189.98,479 191.79,478.41 193.6,482.39 195.41,481.69 197.23,479.35 199.04,480.52 200.85,483.33 202.67,481.92 204.48,479.82 206.29,478.88 208.11,477.71 209.92,476.77 211.73,475.6 213.54,474.67 215.36,474.67 217.17,473.97 218.98,474.2 220.8,476.19 222.61,476.07 224.42,473.5 226.24,472.8 228.05,471.16 229.86,470.22 231.67,470.22 233.49,467.65 235.3,466.48 237.11,466.01 238.93,465.78 240.74,466.24 242.55,463.67 244.37,460.86 246.18,456.88 247.99,459.46 249.8,464.61 251.62,457 253.43,442.38 255.24,437.23 257.06,436.41 258.87,447.52 260.68,448.23 262.5,451.03 264.31,447.06 266.12,442.02 267.93,436.99 269.75,438.87 271.56,433.95 273.37,422.49 275.19,410.08 277,411.02" fill="none" stroke="#4c6a9c" stroke-width="1.5" stroke-linejoin="round" stroke-linecap="butt"/>
</g>
<g id="chart-rare-earths">
<text x="331.6" y="393.7" transform="rotate(0.03 331.6 393.7)" font-family="'Liberation Sans', sans-serif" font-weight="bold" font-size="14.8" fill="#5b5b5b" textLength="73.5" lengthAdjust="spacingAndGlyphs">Rare earths</text>
<text x="326" y="501.5" transform="rotate(0.03 326 501.5)" text-anchor="end" letter-spacing="0.2" font-family="'Liberation Sans', sans-serif" font-size="10.3" fill="#5e5e5e">0 t</text>
<line x1="331" y1="475.3" x2="554" y2="475.3" stroke="#dddddd" stroke-width="1" stroke-dasharray="4 4"/>
<text x="325.8" y="478.9" transform="rotate(0.03 325.8 478.9)" text-anchor="end" letter-spacing="0" font-family="'Liberation Sans', sans-serif" font-size="10.3" fill="#5e5e5e">100k t</text>
<line x1="331" y1="452.7" x2="554" y2="452.7" stroke="#dddddd" stroke-width="1" stroke-dasharray="4 4"/>
<text x="325.8" y="456.3" transform="rotate(0.03 325.8 456.3)" text-anchor="end" letter-spacing="0" font-family="'Liberation Sans', sans-serif" font-size="10.3" fill="#5e5e5e">200k t</text>
<line x1="331" y1="430.1" x2="554" y2="430.1" stroke="#dddddd" stroke-width="1" stroke-dasharray="4 4"/>
<text x="325.8" y="433.7" transform="rotate(0.03 325.8 433.7)" text-anchor="end" letter-spacing="0" font-family="'Liberation Sans', sans-serif" font-size="10.3" fill="#5e5e5e">300k t</text>
<line x1="331" y1="497.9" x2="554" y2="497.9" stroke="#a1a1a1" stroke-width="1"/>
<line x1="331" y1="497.9" x2="331" y2="502.9" stroke="#a1a1a1" stroke-width="1"/>
<text x="331.3" y="512.9" transform="rotate(0.03 331.3 512.9)" letter-spacing="0.15" text-anchor="start" font-family="'Liberation Sans', sans-serif" font-size="10.3" fill="#5e5e5e">1901</text>
<line x1="401.71" y1="497.9" x2="401.71" y2="502.9" stroke="#a1a1a1" stroke-width="1"/>
<text x="401.71" y="512.9" transform="rotate(0.03 401.71 512.9)" letter-spacing="0.15" text-anchor="middle" font-family="'Liberation Sans', sans-serif" font-size="10.3" fill="#5e5e5e">1940</text>
<line x1="437.97" y1="497.9" x2="437.97" y2="502.9" stroke="#a1a1a1" stroke-width="1"/>
<text x="437.97" y="512.9" transform="rotate(0.03 437.97 512.9)" letter-spacing="0.15" text-anchor="middle" font-family="'Liberation Sans', sans-serif" font-size="10.3" fill="#5e5e5e">1960</text>
<line x1="474.23" y1="497.9" x2="474.23" y2="502.9" stroke="#a1a1a1" stroke-width="1"/>
<text x="474.23" y="512.9" transform="rotate(0.03 474.23 512.9)" letter-spacing="0.15" text-anchor="middle" font-family="'Liberation Sans', sans-serif" font-size="10.3" fill="#5e5e5e">1980</text>
<line x1="510.49" y1="497.9" x2="510.49" y2="502.9" stroke="#a1a1a1" stroke-width="1"/>
<text x="510.49" y="512.9" transform="rotate(0.03 510.49 512.9)" letter-spacing="0.15" text-anchor="middle" font-family="'Liberation Sans', sans-serif" font-size="10.3" fill="#5e5e5e">2000</text>
<line x1="554" y1="497.9" x2="554" y2="502.9" stroke="#a1a1a1" stroke-width="1"/>
<text x="554.6" y="512.9" transform="rotate(0.03 554.6 512.9)" letter-spacing="0.15" text-anchor="end" font-family="'Liberation Sans', sans-serif" font-size="10.3" fill="#5e5e5e">2024</text>
<polyline points="331,497.37 332.81,497.15 334.63,496.92 336.44,496.89 338.25,496.85 340.07,496.81 341.88,496.77 343.69,496.74 345.5,496.7 347.32,496.81 349.13,496.92 350.94,497.01 352.76,497.1 354.57,497.19 356.38,497.14 358.2,497.09 360.01,497.04 361.82,497.15 363.63,497.26 365.45,497.35 367.26,497.44 369.07,497.53 370.89,497.54 372.7,497.55 374.51,497.55 376.33,497.55 378.14,497.55 379.95,497.54 381.76,497.54 383.58,497.53 385.39,497.49 387.2,497.46 389.02,497.42 390.83,497.33 392.64,497.24 394.46,497.15 396.27,497.04 398.08,496.92 399.89,496.98 401.71,497.04 403.52,497.09 405.33,497.15 407.15,497.04 408.96,496.92 410.77,497.09 412.59,497.26 414.4,497.15 416.21,497.04 418.02,497.09 419.84,497.15 421.65,496.98 423.46,496.81 425.28,496.61 427.09,495.8 428.9,496.61 430.72,496.52 432.53,496.41 434.34,496.02 436.15,496.99 437.97,497.15 439.78,496.81 441.59,496.02 443.41,496.41 445.22,496.81 447.03,496.02 448.85,494.45 450.66,494 452.47,494.22 454.28,493.77 456.1,494.22 457.91,494 459.72,493.62 461.54,492.42 463.35,491.97 465.16,492.81 466.98,493.21 468.79,492.42 470.6,491.82 472.41,491.41 474.23,491.41 476.04,490.85 477.85,491.61 479.67,490.62 481.48,488.6 483.29,488.22 485.11,488.6 486.92,487.02 488.73,485.22 490.54,484.21 492.36,486.01 494.17,488.22 495.98,486.8 497.8,487.02 499.61,484.82 501.42,480.84 503.24,480.05 505.05,482.07 506.86,480.05 508.67,478.47 510.49,477.44 512.3,476.45 514.11,475.64 515.93,475.44 517.74,474.42 519.55,470.04 521.37,467.04 523.18,469.7 524.99,468.12 526.8,467.67 528.62,474.65 530.43,474.2 532.24,473.84 534.06,473.52 535.87,470.04 537.68,468.84 539.5,467.9 541.31,465.06 543.12,456.06 544.93,449.09 546.75,443.69 548.56,433.11 550.37,429.2 552.19,413.22 554,410.52" fill="none" stroke="#4c6a9c" stroke-width="1.5" stroke-linejoin="round" stroke-linecap="butt"/>
</g>
<g id="chart-silver">
<text x="608" y="393.7" transform="rotate(0.03 608 393.7)" font-family="'Liberation Sans', sans-serif" font-weight="bold" font-size="14.8" fill="#5b5b5b" textLength="36" lengthAdjust="spacingAndGlyphs">Silver</text>
<text x="603" y="501.5" transform="rotate(0.03 603 501.5)" text-anchor="end" letter-spacing="0.2" font-family="'Liberation Sans', sans-serif" font-size="10.3" fill="#5e5e5e">0 t</text>
<line x1="608" y1="467.17" x2="831" y2="467.17" stroke="#dddddd" stroke-width="1" stroke-dasharray="4 4"/>
<text x="602.8" y="470.77" transform="rotate(0.03 602.8 470.77)" text-anchor="end" letter-spacing="0" font-family="'Liberation Sans', sans-serif" font-size="10.3" fill="#5e5e5e">10k t</text>
<line x1="608" y1="436.45" x2="831" y2="436.45" stroke="#dddddd" stroke-width="1" stroke-dasharray="4 4"/>
<text x="602.8" y="440.05" transform="rotate(0.03 602.8 440.05)" text-anchor="end" letter-spacing="0" font-family="'Liberation Sans', sans-serif" font-size="10.3" fill="#5e5e5e">20k t</text>
<line x1="608" y1="497.9" x2="831" y2="497.9" stroke="#a1a1a1" stroke-width="1"/>
<line x1="608" y1="497.9" x2="608" y2="502.9" stroke="#a1a1a1" stroke-width="1"/>
<text x="608.3" y="512.9" transform="rotate(0.03 608.3 512.9)" letter-spacing="0.15" text-anchor="start" font-family="'Liberation Sans', sans-serif" font-size="10.3" fill="#5e5e5e">1901</text>
<line x1="678.71" y1="497.9" x2="678.71" y2="502.9" stroke="#a1a1a1" stroke-width="1"/>
<text x="678.71" y="512.9" transform="rotate(0.03 678.71 512.9)" letter-spacing="0.15" text-anchor="middle" font-family="'Liberation Sans', sans-serif" font-size="10.3" fill="#5e5e5e">1940</text>
<line x1="714.97" y1="497.9" x2="714.97" y2="502.9" stroke="#a1a1a1" stroke-width="1"/>
<text x="714.97" y="512.9" transform="rotate(0.03 714.97 512.9)" letter-spacing="0.15" text-anchor="middle" font-family="'Liberation Sans', sans-serif" font-size="10.3" fill="#5e5e5e">1960</text>
<line x1="751.23" y1="497.9" x2="751.23" y2="502.9" stroke="#a1a1a1" stroke-width="1"/>
<text x="751.23" y="512.9" transform="rotate(0.03 751.23 512.9)" letter-spacing="0.15" text-anchor="middle" font-family="'Liberation Sans', sans-serif" font-size="10.3" fill="#5e5e5e">1980</text>
<line x1="787.49" y1="497.9" x2="787.49" y2="502.9" stroke="#a1a1a1" stroke-width="1"/>
<text x="787.49" y="512.9" transform="rotate(0.03 787.49 512.9)" letter-spacing="0.15" text-anchor="middle" font-family="'Liberation Sans', sans-serif" font-size="10.3" fill="#5e5e5e">2000</text>
<line x1="831" y1="497.9" x2="831" y2="502.9" stroke="#a1a1a1" stroke-width="1"/>
<text x="831.6" y="512.9" transform="rotate(0.03 831.6 512.9)" letter-spacing="0.15" text-anchor="end" font-family="'Liberation Sans', sans-serif" font-size="10.3" fill="#5e5e5e">2024</text>
<polyline points="608,481.6 609.81,482.21 611.63,481.99 613.44,481.99 615.25,481.38 617.07,481.99 618.88,480.46 620.69,478.63 622.5,477.4 624.32,476.61 626.13,476 627.94,476.18 629.76,476.39 631.57,481.6 633.38,480.46 635.2,481.6 637.01,480.77 638.82,478.93 640.63,480.46 642.45,481.2 644.26,481.2 646.07,477.71 647.89,474.19 649.7,474.8 651.51,474.04 653.33,473.61 655.14,473.43 656.95,473.21 658.76,473 660.58,474.65 662.39,479.55 664.2,482.21 666.02,481.6 667.83,479.55 669.64,476.79 671.46,474.04 673.27,471.59 675.08,471.99 676.89,472.2 678.71,471.8 680.52,472.6 682.33,474.34 684.15,478.02 685.96,480 687.77,482.79 689.59,485.36 691.4,481.99 693.21,481.2 695.02,480.62 696.84,478.63 698.65,478.41 700.46,477.19 702.28,476.79 704.09,477.4 705.9,476.39 707.72,476 709.53,475.41 711.34,474.96 713.15,476.61 714.97,475.57 716.78,475.2 718.59,474.41 720.41,474.04 722.22,474.04 724.03,473.21 725.85,472.39 727.66,473 729.47,471.19 731.28,469.6 733.1,468.84 734.91,469.45 736.72,468.84 738.54,468.01 740.35,468.99 742.16,468.41 743.98,467.21 745.79,466.08 747.6,465.01 749.41,464.55 751.23,464.55 753.04,463.33 754.85,462.41 756.67,460.27 758.48,457.51 760.29,457.51 762.11,457.82 763.92,455.07 765.73,450.48 767.54,447.42 769.36,446.8 771.17,448.95 772.98,451.09 774.8,453.54 776.61,455.07 778.42,452.31 780.24,451.09 782.05,447.11 783.86,444.66 785.67,443.44 787.49,441.91 789.3,440.38 791.11,440.07 792.93,439.77 794.74,436.4 796.55,433.95 798.37,435.48 800.18,433.8 801.99,432.12 803.8,429.06 805.62,426.3 807.43,426 809.24,422.94 811.06,415.29 812.87,411.61 814.68,412.53 816.5,410.08 818.31,416.51 820.12,418.04 821.93,418.65 823.75,425.08 825.56,420.49 827.37,418.8 829.19,419.26 831,420.18" fill="none" stroke="#4c6a9c" stroke-width="1.5" stroke-linejoin="round" stroke-linecap="butt"/>
</g>
<g id="footer">
<text x="16.6" y="545" transform="rotate(0.03 16.6 545)" font-family="'Liberation Sans', sans-serif" font-weight="bold" font-size="13.4" fill="#626262" textLength="71.6" lengthAdjust="spacingAndGlyphs">Data source:</text>
<text x="92.4" y="545" transform="rotate(0.03 92.4 545)" font-family="'Liberation Sans', sans-serif" font-size="13.4" fill="#626262" textLength="722.3" lengthAdjust="spacingAndGlyphs">USGS - Mineral Commodity Summaries (2025); USGS - Historical Statistics for Mineral and Material Commodities (2024); BGS -</text>
<text x="16" y="560.4" transform="rotate(0.03 16 560.4)" font-family="'Liberation Sans', sans-serif" font-size="13.4" fill="#626262" textLength="176.6" lengthAdjust="spacingAndGlyphs">World Mineral Statistics (2025)</text>
<text x="16" y="580.6" transform="rotate(0.03 16 580.6)" font-family="'Liberation Sans', sans-serif" font-size="13.4" fill="#626262" textLength="259" lengthAdjust="spacingAndGlyphs">OurWorldinData.org/metals-minerals | CC BY</text>
</g>
</svg>
</body>
</html>
